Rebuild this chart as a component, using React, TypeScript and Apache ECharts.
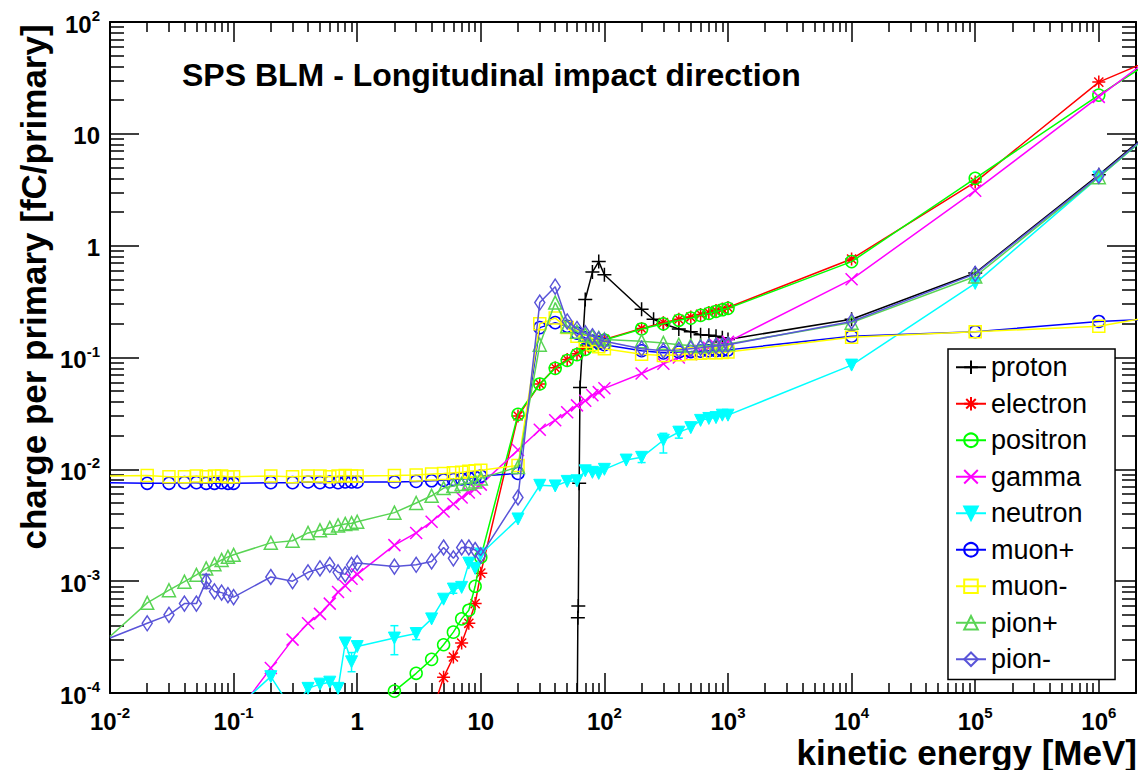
import React, { useEffect, useRef } from 'react';
import * as echarts from 'echarts';

const FONT = "'Liberation Sans', Arial, Helvetica, sans-serif";

// ---------------- data (kinetic energy in MeV, charge per primary in fC) ----------------
const gridE = [
  0.01, 0.02, 0.03, 0.04, 0.05, 0.06, 0.07, 0.08, 0.09,
  0.1, 0.2, 0.3, 0.4, 0.5, 0.6, 0.7, 0.8, 0.9,
  1, 2, 3, 4, 5, 6, 7, 8, 9,
  10, 20, 30, 40, 50, 60, 70, 80, 90,
  100, 200, 300, 400, 500, 600, 700, 800, 900,
  1000, 1e4, 1e5, 1e6, 1e7,
];

const protonE = [60, 61, 61.5, 62.5, 63.5, 70, 80, 90, 100, 200, 250, 300, 400, 500, 600, 700, 800, 900, 1000, 1e4, 1e5, 1e6, 1e7];
const protonV = [3e-5, 4.7e-4, 6e-4, 7.5e-3, 0.054, 0.33, 0.58, 0.72, 0.55, 0.27, 0.22, 0.2, 0.18, 0.17, 0.16, 0.158, 0.155, 0.15, 0.145, 0.22, 0.57, 4.3, 36];

const electronE = [4, 5, 6, 7, 8, 9, 10, 20, 30, 40, 50, 60, 70, 80, 90, 100, 200, 300, 400, 500, 600, 700, 800, 900, 1000, 1e4, 1e5, 1e6, 1e7];
const electronV = [6.5e-5, 1.38e-4, 2.1e-4, 2.8e-4, 4.2e-4, 6.3e-4, 1.18e-3, 0.03, 0.058, 0.081, 0.096, 0.108, 0.12, 0.13, 0.138, 0.145, 0.182, 0.205, 0.22, 0.23, 0.243, 0.252, 0.263, 0.272, 0.28, 0.76, 3.7, 29, 85];

const positronE = [1, 2, 3, 4, 5, 6, 7, 8, 9, 10, 20, 30, 40, 50, 60, 70, 80, 90, 100, 200, 300, 400, 500, 600, 700, 800, 900, 1000, 1e4, 1e5, 1e6, 1e7];
const positronV = [6e-5, 1.04e-4, 1.5e-4, 2.0e-4, 2.7e-4, 3.5e-4, 4.6e-4, 5.5e-4, 9.0e-4, 1.64e-3, 0.031, 0.058, 0.08, 0.094, 0.106, 0.118, 0.128, 0.136, 0.143, 0.18, 0.2, 0.215, 0.225, 0.238, 0.248, 0.258, 0.267, 0.275, 0.72, 4.0, 22.2, 115];

const gammaE = [0.1, 0.2, 0.3, 0.4, 0.5, 0.6, 0.7, 0.8, 0.9, 1, 2, 3, 4, 5, 6, 7, 8, 9, 10, 20, 30, 40, 50, 60, 70, 80, 90, 100, 200, 300, 400, 500, 600, 700, 800, 900, 1000, 1e4, 1e5, 1e6, 1e7];
const gammaV = [6e-5, 1.67e-4, 3.0e-4, 4.2e-4, 5.1e-4, 6.3e-4, 8.0e-4, 9.1e-4, 1.05e-3, 1.15e-3, 2.1e-3, 2.7e-3, 3.4e-3, 4.2e-3, 4.9e-3, 5.6e-3, 6.2e-3, 6.7e-3, 7.3e-3, 0.0149, 0.0226, 0.0275, 0.0324, 0.0373, 0.041, 0.046, 0.049, 0.053, 0.072, 0.088, 0.1, 0.107, 0.115, 0.122, 0.128, 0.133, 0.138, 0.5, 3.1, 21.4, 145];

const neutronE = [0.1, 0.2, 0.3, 0.4, 0.5, 0.6, 0.7, 0.8, 0.9, 1, 2, 3, 4, 5, 6, 7, 8, 9, 10, 20, 30, 40, 50, 60, 70, 80, 90, 100, 150, 200, 300, 400, 500, 600, 700, 800, 900, 1000, 1e4, 1e5, 1e6, 1e7];
const neutronV = [7e-5, 1.4e-4, 7e-5, 1.1e-4, 1.2e-4, 1.25e-4, 1.1e-4, 2.8e-4, 1.9e-4, 2.6e-4, 3.1e-4, 3.4e-4, 4.6e-4, 6.9e-4, 8.5e-4, 8.8e-4, 1.45e-3, 1.3e-3, 1.75e-3, 3.6e-3, 7.2e-3, 7.1e-3, 7.8e-3, 7.9e-3, 9.7e-3, 9.4e-3, 9.2e-3, 0.01, 0.0121, 0.0128, 0.0182, 0.0215, 0.0236, 0.0274, 0.0285, 0.029, 0.0305, 0.0305, 0.0855, 0.46, 4.1, 35];

// neutron statistical error bars: energy, low, high
const neutronErrE = [0.9, 2, 3, 6, 200, 300, 400];
const neutronErrLow = [1.55e-4, 2.2e-4, 3.0e-4, 7.8e-4, 0.0115, 0.014, 0.019];
const neutronErrHigh = [2.3e-4, 4.0e-4, 3.8e-4, 9.2e-4, 0.014, 0.021, 0.024];

const muonPlusV = [
  0.0076, 0.0075, 0.0075, 0.0076, 0.0076, 0.0075, 0.0075, 0.0076, 0.0075,
  0.0075, 0.0076, 0.0076, 0.0077, 0.0076, 0.0077, 0.0076, 0.0077, 0.0077,
  0.0077, 0.0077, 0.0078, 0.0079, 0.008, 0.0081, 0.0082, 0.0083, 0.0085,
  0.0087, 0.0092, 0.185, 0.205, 0.19, 0.165, 0.15, 0.14, 0.135,
  0.13, 0.115, 0.11, 0.112, 0.113, 0.114, 0.115, 0.115, 0.116,
  0.117, 0.155, 0.17, 0.21, 0.235,
];

const muonMinusV = [
  0.0087, 0.0088, 0.0086, 0.0086, 0.0087, 0.0086, 0.0087, 0.0087, 0.0086,
  0.0086, 0.0087, 0.0086, 0.0087, 0.0087, 0.0086, 0.0087, 0.0088, 0.0087,
  0.0087, 0.0088, 0.0089, 0.0091, 0.0092, 0.0093, 0.0094, 0.0096, 0.0097,
  0.0098, 0.0108, 0.2, 0.225, 0.185, 0.155, 0.14, 0.13, 0.125,
  0.12, 0.107, 0.104, 0.106, 0.108, 0.109, 0.11, 0.11, 0.111,
  0.112, 0.152, 0.17, 0.19, 0.3,
];

const pionPlusV = [
  3.2e-4, 6.4e-4, 8.3e-4, 9.9e-4, 1.14e-3, 1.3e-3, 1.42e-3, 1.55e-3, 1.65e-3,
  1.72e-3, 2.2e-3, 2.3e-3, 2.7e-3, 2.85e-3, 3.0e-3, 3.15e-3, 3.25e-3, 3.3e-3,
  3.4e-3, 4.1e-3, 5.0e-3, 5.8e-3, 6.8e-3, 7.1e-3, 7.4e-3, 7.5e-3, 7.8e-3,
  8.3e-3, 0.0105, 0.13, 0.31, 0.19, 0.17, 0.16, 0.155, 0.15,
  0.145, 0.14, 0.135, 0.13, 0.128, 0.127, 0.128, 0.13, 0.13,
  0.132, 0.205, 0.53, 4.1, 36,
];

const pionMinusV = [
  3.1e-4, 4.2e-4, 5.0e-4, 6.3e-4, 6.3e-4, 1.0e-3, 8.1e-4, 7.9e-4, 7.5e-4,
  7.2e-4, 1.09e-3, 1.0e-3, 1.2e-3, 1.3e-3, 1.4e-3, 1.2e-3, 1.15e-3, 1.4e-3,
  1.45e-3, 1.35e-3, 1.4e-3, 1.5e-3, 2.0e-3, 1.6e-3, 2.0e-3, 2.0e-3, 1.9e-3,
  1.7e-3, 5.6e-3, 0.31, 0.43, 0.21, 0.18, 0.165, 0.155, 0.145,
  0.14, 0.12, 0.115, 0.117, 0.12, 0.122, 0.125, 0.127, 0.128,
  0.13, 0.21, 0.56, 4.2, 36,
];

// pion- error bar at 0.06 MeV
const pionMinusErrE = [0.06];
const pionMinusErrLow = [8.6e-4];
const pionMinusErrHigh = [1.15e-3];

const legendNames = ['proton', 'electron', 'positron', 'gamma', 'neutron', 'muon+', 'muon-', 'pion+', 'pion-'];

// ---------------- styles ----------------
const PLUS = 'path://M0,5L10,5M5,0L5,10';
const CROSS = 'path://M0,0L10,10M0,10L10,0';
const STAR = 'path://M0,5L10,5M5,0L5,10M1.5,1.5L8.5,8.5M1.5,8.5L8.5,1.5';

type Sty = { color: string; symbol: string; size: number | number[]; filled?: boolean; rotate?: number };
const styles: Record<string, Sty> = {
  proton: { color: '#000000', symbol: PLUS, size: 14 },
  electron: { color: '#ff0000', symbol: STAR, size: 13 },
  positron: { color: '#00ff00', symbol: 'circle', size: 12 },
  gamma: { color: '#ff00ff', symbol: CROSS, size: 12 },
  neutron: { color: '#00ffff', symbol: 'triangle', size: 12, filled: true, rotate: 180 },
  'muon+': { color: '#0000ff', symbol: 'circle', size: 12 },
  'muon-': { color: '#ffff00', symbol: 'rect', size: 12 },
  'pion+': { color: '#59d454', symbol: 'triangle', size: 13 },
  'pion-': { color: '#5954d8', symbol: 'diamond', size: [10, 15] },
};

function pairs(xs: number[], ys: number[]) {
  return xs.map((x, i) => (x <= 0.01 ? { value: [x, ys[i]], symbol: 'none' } : [x, ys[i]]));
}

function supLabel(v: number) {
  const e = Math.round(Math.log10(v));
  if (Math.abs(v / Math.pow(10, e) - 1) > 1e-6) return '';
  if (e === 0) return '{b|1}';
  if (e === 1) return '{b|10}';
  return `{b|10}{s|${e}}`;
}

const rich = {
  b: { fontSize: 24, fontWeight: 'bold', fontFamily: FONT, color: '#000', lineHeight: 28, verticalAlign: 'bottom' },
  s: { fontSize: 15, fontWeight: 'bold', fontFamily: FONT, color: '#000', lineHeight: 15, verticalAlign: 'top' },
};

function makeAxis(kind: 'x' | 'y', pos: string, labels: boolean) {
  const isX = kind === 'x';
  return {
    type: 'log',
    logBase: 10,
    position: pos,
    min: isX ? 0.01 : 1e-4,
    max: isX ? 2e6 : 100,
    axisLine: { show: true, onZero: false, lineStyle: { color: '#000', width: 2 } },
    axisTick: { show: true, inside: true, length: isX ? 20 : 29, lineStyle: { color: '#000', width: 1.5 } },
    minorTick: { show: true, splitNumber: 9, length: isX ? 10 : 14, lineStyle: { color: '#000', width: 1.5 } },
    splitLine: { show: false },
    minorSplitLine: { show: false },
    axisLabel: labels
      ? { show: true, formatter: supLabel, rich, margin: isX ? 12 : 10, showMinLabel: true, showMaxLabel: true, hideOverlap: false }
      : { show: false },
  };
}

function errorBarSeries(name: string, color: string, es: number[], lo: number[], hi: number[]) {
  return {
    type: 'custom',
    name,
    z: 20,
    silent: true,
    clip: true,
    data: es.map((e, i) => [e, lo[i], hi[i]]),
    renderItem: (params: any, api: any) => {
      const top = api.coord([api.value(0), api.value(2)]);
      const bot = api.coord([api.value(0), api.value(1)]);
      const st = { stroke: color, lineWidth: 1.5 };
      return {
        type: 'group',
        children: [
          { type: 'line', shape: { x1: top[0], y1: top[1], x2: bot[0], y2: bot[1] }, style: st },
          { type: 'line', shape: { x1: top[0] - 4, y1: top[1], x2: top[0] + 4, y2: top[1] }, style: st },
          { type: 'line', shape: { x1: bot[0] - 4, y1: bot[1], x2: bot[0] + 4, y2: bot[1] }, style: st },
        ],
      };
    },
  };
}

export default function App() {
  const ref = useRef<HTMLDivElement>(null);
  useEffect(() => {
    if (!ref.current) return;
    const chart = echarts.init(ref.current, null, { renderer: 'svg' });

    const seriesData: Record<string, any[]> = {
      proton: pairs(protonE, protonV),
      electron: pairs(electronE, electronV),
      positron: pairs(positronE, positronV),
      gamma: pairs(gammaE, gammaV),
      neutron: pairs(neutronE, neutronV),
      'muon+': pairs(gridE, muonPlusV),
      'muon-': pairs(gridE, muonMinusV),
      'pion+': pairs(gridE, pionPlusV),
      'pion-': pairs(gridE, pionMinusV),
    };

    const series: any[] = legendNames.map((name, i) => {
      const s = styles[name];
      return {
        type: 'line',
        name,
        data: seriesData[name],
        symbol: s.symbol,
        symbolSize: s.size,
        symbolRotate: s.rotate || 0,
        showSymbol: true,
        clip: true,
        z: 2 + i,
        lineStyle: { color: s.color, width: 1.5 },
        itemStyle: s.filled
          ? { color: s.color, borderColor: s.color, borderWidth: 1 }
          : { color: 'rgba(255,255,255,0)', borderColor: s.color, borderWidth: 1.5 },
        emphasis: { disabled: true },
      };
    });
    series.push(errorBarSeries('neutron-err', styles.neutron.color, neutronErrE, neutronErrLow, neutronErrHigh));
    series.push(errorBarSeries('pion--err', styles['pion-'].color, pionMinusErrE, pionMinusErrLow, pionMinusErrHigh));

    chart.setOption({
      animation: false,
      backgroundColor: '#ffffff',
      grid: { left: 110, right: 1, top: 22, bottom: 77, containLabel: false },
      title: {
        text: 'SPS BLM - Longitudinal impact direction',
        left: 182,
        top: 59,
        padding: 0,
        textStyle: { fontFamily: FONT, fontWeight: 'bold', fontSize: 32, color: '#000' },
      },
      legend: {
        orient: 'vertical',
        left: 948,
        top: 349,
        padding: [4, 28, 6, 7],
        itemWidth: 30,
        itemHeight: 17,
        itemGap: 8,
        backgroundColor: '#ffffff',
        borderColor: '#000',
        borderWidth: 1.5,
        borderRadius: 0,
        data: legendNames,
        textStyle: { fontFamily: FONT, fontSize: 27, color: '#000', lineHeight: 28.5 },
      },
      xAxis: [makeAxis('x', 'bottom', true), makeAxis('x', 'top', false)],
      yAxis: [makeAxis('y', 'left', true), makeAxis('y', 'right', false)],
      graphic: [
        {
          type: 'text',
          x: 33,
          y: 287,
          rotation: Math.PI / 2,
          style: {
            text: 'charge per primary [fC/primary]',
            font: `bold 35px ${FONT}`,
            lineHeight: 34,
            fill: '#000',
            textAlign: 'center',
            textVerticalAlign: 'middle',
          },
        },
        {
          type: 'text',
          x: 1137,
          y: 752,
          style: {
            text: 'kinetic energy [MeV]',
            font: `bold 35px ${FONT}`,
            lineHeight: 32,
            fill: '#000',
            textAlign: 'right',
            textVerticalAlign: 'middle',
          },
        },
      ],
      series,
    });
    return () => chart.dispose();
  }, []);
  return <div ref={ref} style={{ position: 'fixed', left: 0, top: 0, width: 1139, height: 770 }} />;
}
